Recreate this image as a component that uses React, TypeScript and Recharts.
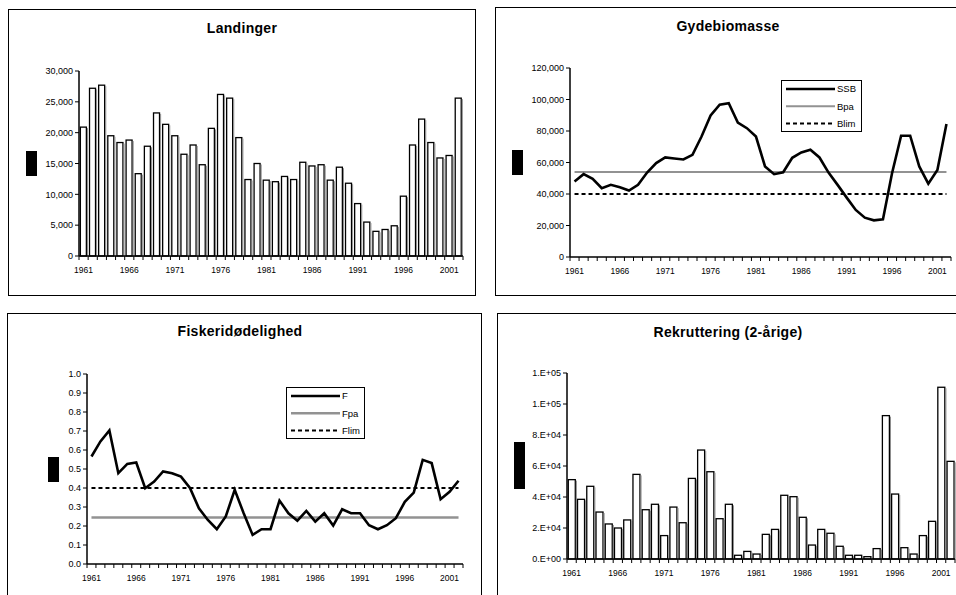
import React from "react";
import { BarChart, Bar, ComposedChart, Line, XAxis, YAxis } from "recharts";

const years = [
  1961, 1962, 1963, 1964, 1965, 1966, 1967, 1968, 1969, 1970, 1971, 1972, 1973, 1974,
  1975, 1976, 1977, 1978, 1979, 1980, 1981, 1982, 1983, 1984, 1985, 1986, 1987, 1988,
  1989, 1990, 1991, 1992, 1993, 1994, 1995, 1996, 1997, 1998, 1999, 2000, 2001, 2002,
];
const labelYears = [1961, 1966, 1971, 1976, 1981, 1986, 1991, 1996, 2001];

// Landinger (tonnes)
const landings = [
  20900, 27200, 27700, 19500, 18400, 18800, 13350, 17800, 23200, 21350, 19500, 16500, 18000, 14800,
  20700, 26200, 25600, 19200, 12400, 15000, 12300, 12050, 12900, 12400, 15200, 14600, 14800, 12300,
  14400, 11800, 8500, 5500, 4000, 4300, 4900, 9700, 18000, 22200, 18400, 15900, 16300, 25600,
];

// Gydebiomasse
const ssb = [
  48000, 52600, 49600, 43700, 45800, 44300, 42200, 45800, 53600, 59600, 63200, 62500, 61900, 64900,
  76500, 89900, 96700, 97700, 85400, 81800, 76500, 57500, 52600, 53800, 63000, 66400, 68100, 63200,
  53600, 45800, 37700, 29900, 25000, 23300, 24000, 53200, 77000, 77000, 57500, 46600, 55300, 84400,
];
const BPA = 54000;
const BLIM = 40000;

// Fiskeridødelighed
const fishingF = [
  0.566, 0.645, 0.703, 0.478, 0.527, 0.534, 0.399, 0.434, 0.487, 0.478, 0.46, 0.4, 0.293, 0.232,
  0.183, 0.25, 0.39, 0.267, 0.153, 0.183, 0.183, 0.334, 0.267, 0.228, 0.279, 0.223, 0.267, 0.202,
  0.288, 0.267, 0.267, 0.204, 0.183, 0.204, 0.241, 0.327, 0.376, 0.548, 0.531, 0.341, 0.38, 0.438,
];
const FPA = 0.245;
const FLIM = 0.4;

// Rekruttering (2-årige)
const recruits = [
  51200, 38500, 46900, 30300, 22600, 20000, 25200, 54600, 31800, 35300, 15100, 33500, 23400, 52000,
  70300, 56300, 26000, 35300, 2400, 4900, 3200, 15900, 19100, 41100, 40200, 26900, 9000, 19100,
  16600, 8200, 2400, 2400, 1500, 6700, 92500, 41900, 7300, 3200, 15100, 24300, 110800, 63000,
];

const landingTicks = [0, 5000, 10000, 15000, 20000, 25000, 30000];
const ssbTicks = [0, 20000, 40000, 60000, 80000, 100000, 120000];
const fTicks = [0, 0.1, 0.2, 0.3, 0.4, 0.5, 0.6, 0.7, 0.8, 0.9, 1.0];
const recruitTicks = [0, 20000, 40000, 60000, 80000, 100000, 120000];
const recruitTickLabels = ["0.E+00", "2.E+04", "4.E+04", "6.E+04", "8.E+04", "1.E+05", "1.E+05"];

const FONT = "'Liberation Sans', Arial, sans-serif";
const YW = 60;
const XH = 24;
const PAD = 8;
const DASH = "4 3";

const landingData = years.map((year, i) => ({ year, value: landings[i] }));
const ssbData = years.map((year, i) => ({ year, ssb: ssb[i], bpa: BPA, blim: BLIM }));
const fData = years.map((year, i) => ({ year, f: fishingF[i], fpa: FPA, flim: FLIM }));
const recruitData = years.map((year, i) => ({ year, value: recruits[i] }));

// chart box so that the plot area lands on (l, t, r, b) in page pixels
function frame(l: number, t: number, r: number, b: number) {
  return {
    style: { position: "absolute" as const, left: l - YW, top: t - PAD },
    width: r - l + YW + PAD,
    height: b - t + PAD + XH,
    margin: { top: PAD, right: PAD, bottom: 0, left: 0 },
    bw: (r - l) / years.length,
  };
}

function makeXTick(bw: number) {
  return (props: any) => {
    const { x, y, payload, index } = props;
    const show = labelYears.includes(payload.value);
    return (
      <g>
        <line x1={x - bw / 2} x2={x - bw / 2} y1={y} y2={y + 4} stroke="#000" strokeWidth={1} />
        {index === years.length - 1 && (
          <line x1={x + bw / 2} x2={x + bw / 2} y1={y} y2={y + 4} stroke="#000" strokeWidth={1} />
        )}
        {show && (
          <text x={x} y={y + 17} textAnchor="middle" fontSize={8.5} fontFamily={FONT} fill="#000">
            {payload.value}
          </text>
        )}
      </g>
    );
  };
}

const OutlinedBar = (props: any) => {
  const { x, y, width, height } = props;
  if (!height || height <= 0) return null;
  return (
    <g>
      <rect x={x} y={y} width={width} height={height} fill="#fff" stroke="#000" strokeWidth={1.3} />
      <line x1={x + width + 1.1} x2={x + width + 1.1} y1={y + 1} y2={y + height} stroke="#8c8c8c" strokeWidth={1} />
    </g>
  );
};

const yTick = { fontSize: 9, fill: "#000", fontFamily: FONT };

// top and right edges of the plot frame
const frameAxes = [
  <XAxis key="tx" xAxisId="top" orientation="top" dataKey="year" height={0} tick={false} tickLine={false} axisLine={{ stroke: "#000", strokeWidth: 1.5 }} />,
  <YAxis key="ry" yAxisId="right" orientation="right" width={0} tick={false} tickLine={false} axisLine={{ stroke: "#000", strokeWidth: 1.5 }} />,
];

function Panel({ left, top, width, height }: any) {
  return (
    <div
      style={{
        position: "absolute",
        left,
        top,
        width,
        height,
        border: "1.5px solid #000",
        boxSizing: "border-box",
      }}
    />
  );
}

function Title({ text, cx, top }: any) {
  return (
    <div
      style={{
        position: "absolute",
        left: cx - 150,
        top,
        width: 300,
        textAlign: "center",
        fontFamily: FONT,
        fontWeight: "bold",
        fontSize: 14,
        lineHeight: "14px",
        letterSpacing: 0.3,
        color: "#000",
      }}
    >
      {text}
    </div>
  );
}

function Block({ left, top, width, height }: any) {
  return <div style={{ position: "absolute", left, top, width, height, background: "#000" }} />;
}

function LegendBox({ left, top, width, items }: any) {
  return (
    <div
      style={{
        position: "absolute",
        left,
        top,
        width,
        height: 52,
        border: "1px solid #000",
        boxSizing: "border-box",
        background: "#fff",
      }}
    >
      <svg width={width} height={52} style={{ position: "absolute", left: -1, top: -1 }}>
        {items.map((it: any, i: number) => {
          const y = 9 + i * 17.3;
          return (
            <g key={it.label}>
              <line
                x1={5}
                x2={54}
                y1={y}
                y2={y}
                stroke={it.stroke}
                strokeWidth={it.width}
                strokeDasharray={it.dash}
              />
              <text x={56} y={y + 3.4} fontSize={9.5} fontFamily={FONT} fill="#000">
                {it.label}
              </text>
            </g>
          );
        })}
      </svg>
    </div>
  );
}

const GREY = "#929292";

export default function App() {
  const f1 = frame(79, 71, 463, 256);
  const f2 = frame(570, 68, 951, 257);
  const f3 = frame(87, 374, 463, 564);
  const f4 = frame(567, 373, 955, 559);

  return (
    <div
      style={{
        position: "absolute",
        left: 0,
        top: 0,
        width: 956,
        height: 595,
        overflow: "hidden",
        background: "#fff",
      }}
    >
      <Panel left={8} top={9} width={468} height={287} />
      <Panel left={495} top={7} width={480} height={289} />
      <Panel left={7} top={313} width={475} height={300} />
      <Panel left={497} top={313} width={480} height={300} />

      <Title text="Landinger" cx={242} top={21} />
      <Title text="Gydebiomasse" cx={728} top={19} />
      <Title text="Fiskeridødelighed" cx={240} top={324} />
      <Title text="Rekruttering (2-årige)" cx={728} top={325} />

      <Block left={26} top={151} width={11} height={25} />
      <Block left={512} top={150} width={11} height={25} />
      <Block left={48} top={457} width={11} height={25} />
      <Block left={514} top={442} width={11} height={47} />

      <BarChart style={f1.style} width={f1.width} height={f1.height} margin={f1.margin} data={landingData} barCategoryGap="15%">
        {frameAxes}
        <XAxis dataKey="year" interval={0} tickSize={0} tickMargin={0} tickLine={false} height={XH} axisLine={{ stroke: "#000", strokeWidth: 1.5 }} tick={makeXTick(f1.bw)} />
        <YAxis width={YW} domain={[0, 30000]} ticks={landingTicks} interval={0} tickSize={4} tickMargin={2} tick={yTick} tickFormatter={(v: number) => v.toLocaleString("en-US")} axisLine={{ stroke: "#000", strokeWidth: 1.5 }} tickLine={{ stroke: "#000" }} />
        <Bar dataKey="value" shape={OutlinedBar} isAnimationActive={false} />
      </BarChart>

      <ComposedChart style={f2.style} width={f2.width} height={f2.height} margin={f2.margin} data={ssbData}>
        {frameAxes}
        <XAxis dataKey="year" scale="band" interval={0} tickSize={0} tickMargin={0} tickLine={false} height={XH} axisLine={{ stroke: "#000", strokeWidth: 1.5 }} tick={makeXTick(f2.bw)} />
        <YAxis width={YW} domain={[0, 120000]} ticks={ssbTicks} interval={0} tickSize={4} tickMargin={2} tick={yTick} tickFormatter={(v: number) => v.toLocaleString("en-US")} axisLine={{ stroke: "#000", strokeWidth: 1.5 }} tickLine={{ stroke: "#000" }} />
        <Line dataKey="bpa" stroke={GREY} strokeWidth={2} dot={false} isAnimationActive={false} />
        <Line dataKey="blim" stroke="#000" strokeWidth={2} strokeDasharray={DASH} dot={false} isAnimationActive={false} />
        <Line dataKey="ssb" stroke="#000" strokeWidth={2.6} dot={false} isAnimationActive={false} />
      </ComposedChart>

      <ComposedChart style={f3.style} width={f3.width} height={f3.height} margin={f3.margin} data={fData}>
        {frameAxes}
        <XAxis dataKey="year" scale="band" interval={0} tickSize={0} tickMargin={0} tickLine={false} height={XH} axisLine={{ stroke: "#000", strokeWidth: 1.5 }} tick={makeXTick(f3.bw)} />
        <YAxis width={YW} domain={[0, 1]} ticks={fTicks} interval={0} tickSize={4} tickMargin={2} tick={yTick} tickFormatter={(v: number) => v.toFixed(1)} axisLine={{ stroke: "#000", strokeWidth: 1.5 }} tickLine={{ stroke: "#000" }} />
        <Line dataKey="fpa" stroke={GREY} strokeWidth={2.5} dot={false} isAnimationActive={false} />
        <Line dataKey="flim" stroke="#000" strokeWidth={2} strokeDasharray={DASH} dot={false} isAnimationActive={false} />
        <Line dataKey="f" stroke="#000" strokeWidth={2.6} dot={false} isAnimationActive={false} />
      </ComposedChart>

      <BarChart style={f4.style} width={f4.width} height={f4.height} margin={f4.margin} data={recruitData} barCategoryGap="14%">
        {frameAxes}
        <XAxis dataKey="year" interval={0} tickSize={0} tickMargin={0} tickLine={false} height={XH} axisLine={{ stroke: "#000", strokeWidth: 1.5 }} tick={makeXTick(f4.bw)} />
        <YAxis width={YW} domain={[0, 120000]} ticks={recruitTicks} interval={0} tickSize={4} tickMargin={2} tick={yTick} tickFormatter={(v: number, i: number) => recruitTickLabels[i]} axisLine={{ stroke: "#000", strokeWidth: 1.5 }} tickLine={{ stroke: "#000" }} />
        <Bar dataKey="value" shape={OutlinedBar} isAnimationActive={false} />
      </BarChart>

      <LegendBox
        left={781}
        top={80}
        width={81}
        items={[
          { label: "SSB", stroke: "#000", width: 2.6 },
          { label: "Bpa", stroke: GREY, width: 2 },
          { label: "Blim", stroke: "#000", width: 2, dash: DASH },
        ]}
      />
      <LegendBox
        left={286}
        top={387}
        width={79}
        items={[
          { label: "F", stroke: "#000", width: 2.6 },
          { label: "Fpa", stroke: GREY, width: 2.5 },
          { label: "Flim", stroke: "#000", width: 2, dash: DASH },
        ]}
      />
    </div>
  );
}
